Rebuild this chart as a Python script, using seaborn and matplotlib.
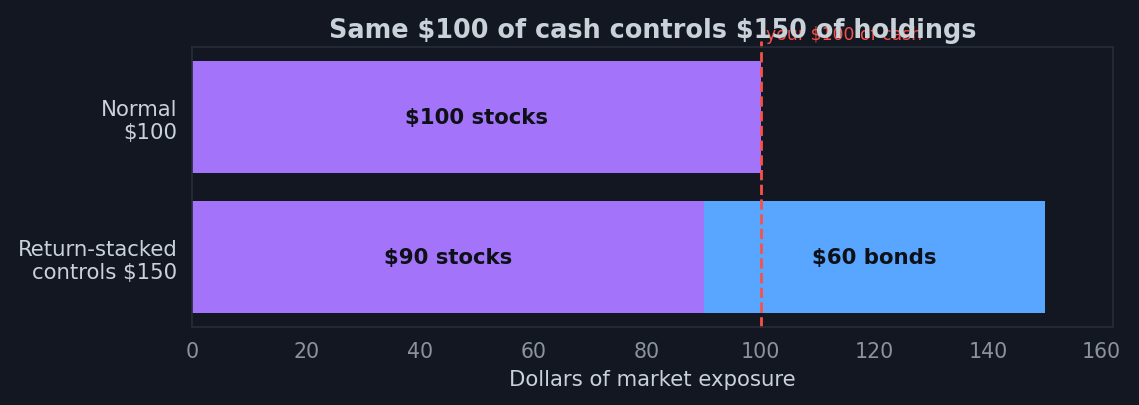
import pandas as pd
import matplotlib
matplotlib.use("Agg")
import matplotlib.pyplot as plt
import seaborn as sns

# ── Data ──────────────────────────────────────────────────────────────────────
categories = ["Normal\n\\$100", "Return-stacked\ncontrols \\$150"]
stocks = [100, 90]
bonds = [0, 60]
stock_labels = ["\\$100 stocks", "\\$90 stocks"]
bond_labels = ["", "\\$60 bonds"]
cash_line = 100

BG = "#131722"
PURPLE = "#a374f9"
BLUE = "#58a6ff"
RED = "#f85149"
TEXT = "#c9d1d9"
MUTED = "#8b949e"
SPINE = "#262c38"

sns.set_theme(style="dark")
plt.rcParams["font.family"] = ["DejaVu Sans"]

df = pd.DataFrame({"category": categories, "stocks": stocks, "bonds": bonds})
df["total"] = df["stocks"] + df["bonds"]

fig, ax = plt.subplots(figsize=(11.39, 4.06), dpi=100)
fig.patch.set_facecolor(BG)
ax.set_facecolor(BG)

# total first (bonds colour), stocks drawn on top
sns.barplot(data=df, y="category", x="total", color=BLUE, saturation=1,
            width=0.8, orient="h", linewidth=0, edgecolor="none", ax=ax)
sns.barplot(data=df, y="category", x="stocks", color=PURPLE, saturation=1,
            width=0.8, orient="h", linewidth=0, edgecolor="none", ax=ax)

for i, row in df.iterrows():
    ax.text(row["stocks"] / 2, i, stock_labels[i], ha="center", va="center",
            fontsize=15.3, fontweight="bold", color="#0d1117")
    if row["bonds"] > 0:
        ax.text(row["stocks"] + row["bonds"] / 2, i, bond_labels[i],
                ha="center", va="center", fontsize=15.3, fontweight="bold",
                color="#0d1117")

ax.axvline(cash_line, color=RED, linestyle="--", linewidth=2, clip_on=False,
           ymin=0, ymax=1.02)
ax.text(cash_line + 1, 1.015, "your \\$100 of cash", transform=ax.get_xaxis_transform(),
        color=RED, fontsize=12.4, ha="left", va="bottom", zorder=1)

ax.set_xlim(0, 162)
ax.set_title("Same \\$100 of cash controls \\$150 of holdings", color=TEXT,
             fontsize=18.4, fontweight="bold", pad=7, zorder=5)
ax.set_xlabel("Dollars of market exposure", color=TEXT, fontsize=15.3, labelpad=6)
ax.set_ylabel("")
ax.grid(False)

ax.tick_params(axis="x", colors=MUTED, labelsize=14.8, length=5, width=1, pad=5)
ax.tick_params(axis="y", colors=MUTED, labelcolor=TEXT, labelsize=15.3, length=5,
               width=1, pad=6)
for s in ax.spines.values():
    s.set_visible(True)
    s.set_color(SPINE)
    s.set_linewidth(1.2)

plt.subplots_adjust(left=0.169, right=0.977, top=0.882, bottom=0.192)
plt.savefig("out.png", facecolor=BG)
